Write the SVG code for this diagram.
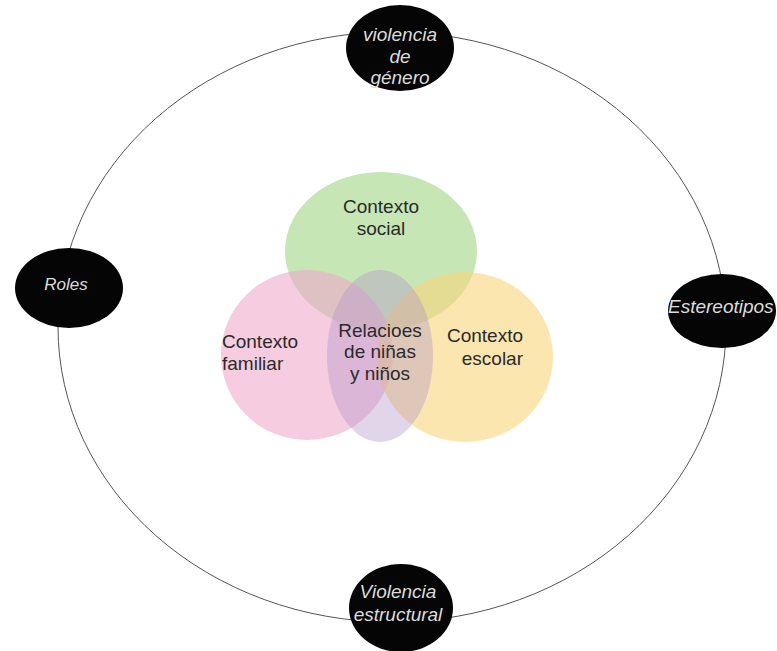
<svg xmlns="http://www.w3.org/2000/svg" width="777" height="651" viewBox="0 0 777 651">
<style>
.venn{font-family:"Liberation Sans",Arial,sans-serif;font-size:19px;fill:#2a2a2a}
.dark{fill:#050505}
.lab{font-family:"Liberation Sans",Arial,sans-serif;font-size:19px;font-style:italic;fill:#dcdcdc}
</style>
<rect width="777" height="651" fill="#ffffff"/>
<g id="connectors">
<ellipse cx="392" cy="327" rx="334" ry="295" fill="none" stroke="#555" stroke-width="1"/>
</g>
<g id="social"><ellipse cx="381" cy="251" rx="96" ry="79" fill="#a8d98f" fill-opacity="0.65"/>
<text class="venn" text-anchor="middle"><tspan x="381" y="213">Contexto</tspan><tspan x="381" y="235">social</tspan></text></g>
<g id="familiar"><ellipse cx="307" cy="355" rx="86" ry="85" fill="#eeaacb" fill-opacity="0.6"/>
<text class="venn"><tspan x="222" y="348">Contexto</tspan><tspan x="222" y="370">familiar</tspan></text></g>
<g id="escolar"><ellipse cx="465" cy="357" rx="88" ry="85" fill="#f9d67a" fill-opacity="0.6"/>
<text class="venn" text-anchor="end"><tspan x="523" y="342">Contexto</tspan><tspan x="523" y="365">escolar</tspan></text></g>
<g id="relaciones"><ellipse cx="380" cy="356" rx="53" ry="86" fill="#b496c8" fill-opacity="0.4"/>
<text class="venn" text-anchor="middle"><tspan x="380" y="337">Relacioes</tspan><tspan x="380" y="358">de niñas</tspan><tspan x="380" y="380">y niños</tspan></text></g>
<g id="violencia-genero"><ellipse class="dark" cx="400" cy="48" rx="54" ry="43"/>
<text class="lab" text-anchor="middle"><tspan x="400" y="41">violencia</tspan><tspan x="400" y="63">de</tspan><tspan x="400" y="84">género</tspan></text></g>
<g id="roles"><ellipse class="dark" cx="69" cy="288" rx="54" ry="40"/>
<text class="lab" style="font-size:17px" text-anchor="middle" x="66" y="290">Roles</text></g>
<g id="estereotipos"><ellipse class="dark" cx="722" cy="311" rx="54" ry="37"/>
<text class="lab" x="668" y="313">Estereotipos</text></g>
<g id="violencia-estructural"><ellipse class="dark" cx="401" cy="608" rx="52" ry="44"/>
<text class="lab" text-anchor="middle"><tspan x="398" y="598">Violencia</tspan><tspan x="398" y="621">estructural</tspan></text></g>
</svg>
